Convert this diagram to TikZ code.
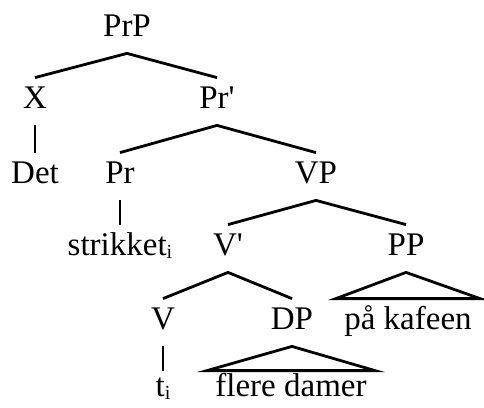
\documentclass[tikz,border=0pt]{standalone}
\usepackage{fontspec}
\setmainfont{Liberation Serif}
\usetikzlibrary{positioning}

% small index letter, dropped a little below the baseline
\newcommand{\idx}[1]{\raisebox{-3pt}{\fontsize{20}{20}\selectfont #1}}

\begin{document}
\begin{tikzpicture}[
    x=1pt, y=-1pt, % work in points, y going down
    line width=2.8pt,
    every node/.style={font=\fontsize{33}{40}\selectfont, inner sep=0pt,
        text height=29pt, text depth=16pt, anchor=base}, % branches meet at fixed offsets
    low/.style={text height=24pt}, % bottom row sits closer to its branches
    roof/.style={inner xsep=7pt} % leaves under a triangle
]

    \useasboundingbox (0,0) rectangle (484,407);

    % Labels, row by row
    \node (prp) at (127,36) {PrP};

    \node (x) at (35,108) {X};
    \node (prbar) at (217,108) {Pr\textquotesingle};

    \node (det) at (35,183) {Det};
    \node (pr) at (120,183) {Pr};
    \node (vp) at (316,183) {VP};

    \node (strikket) at (120,255) {strikket\idx{i}};
    \node (vbar) at (228,255) {V\textquotesingle};
    \node (pp) at (406,255) {PP};

    \node (v) at (163,329) {V};
    \node (dp) at (292,329) {DP};
    \node[roof] (kafe) at (408,329) {på kafeen};

    \node[low] (ti) at (163,396) {t\idx{i}};
    \node[low, roof] (flere) at (291,396) {flere damer};

    % Branches
    \draw (x.north) -- (prp.south) -- (prbar.north);
    \draw (x.south) -- (det.north);
    \draw (pr.north) -- (prbar.south) -- (vp.north);
    \draw (pr.south) -- (strikket.north);
    \draw (vbar.north) -- (vp.south) -- (pp.north);
    \draw (v.north) -- (vbar.south) -- (dp.north);
    \draw (v.south) -- (ti.north);

    % Triangles over unanalysed phrases
    \draw (pp.south) -- (kafe.north west) -- (kafe.north east) -- cycle;
    \draw (dp.south) -- (flere.north west) -- (flere.north east) -- cycle;

\end{tikzpicture}
\end{document}
